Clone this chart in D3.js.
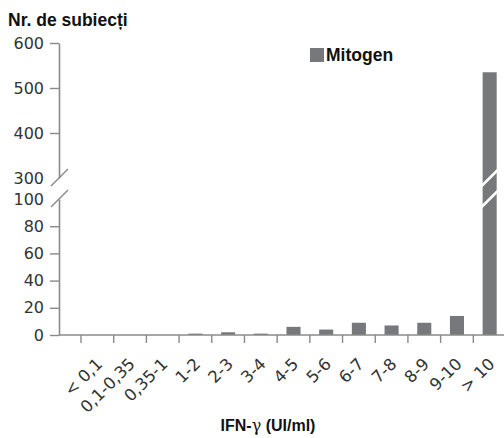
<!DOCTYPE html>
<html>
<head>
<meta charset="utf-8">
<script src="https://cdn.jsdelivr.net/npm/d3@7"></script>
<style>
  body { margin: 0; background: #fff; }
  .tick text { font-family: "DejaVu Sans", sans-serif; font-size: 16px; fill: #333; }
  .title { font-family: "Liberation Sans", Arial, sans-serif; font-weight: bold; fill: #111; }
</style>
</head>
<body>
<div id="chart"></div>
<script>
// data
const categories = ['< 0,1', '0,1-0,35', '0,35-1', '1-2', '2-3', '3-4', '4-5', '5-6', '6-7', '7-8', '8-9', '9-10', '> 10'];
const mitogen = [0, 0, 0, 1, 2, 1, 6, 4, 9, 7, 9, 14, 535];
const lowTicks = [0, 20, 40, 60, 80, 100];
const highTicks = [300, 400, 500, 600];

const width = 504, height = 438;
const axisX = 59, baseY = 335;
const axisColor = '#8a8a8a', barColor = '#77787c';

const svg = d3.select('#chart').append('svg')
    .attr('width', width)
    .attr('height', height);

// x scale: bars centred in each band, ticks on band boundaries
const x = d3.scaleBand()
    .domain(categories)
    .range([81, 506])
    .paddingInner(0.57)
    .paddingOuter(0.285);

// broken y axis: two linear segments
const yLow = d3.scaleLinear().domain([0, 100]).range([baseY, 199]);
const yHigh = d3.scaleLinear().domain([300, 600]).range([178, 43]);

// bars
svg.append('g').selectAll('rect')
    .data(mitogen.map((v, i) => ({cat: categories[i], v})))
    .join('rect')
    .attr('x', d => x(d.cat))
    .attr('width', x.bandwidth())
    .attr('y', d => d.v > 100 ? yHigh(d.v) : yLow(d.v))
    .attr('height', d => baseY - (d.v > 100 ? yHigh(d.v) : yLow(d.v)))
    .attr('fill', barColor);

// white break marks across tall bars
const tall = mitogen.map((v, i) => ({cat: categories[i], v})).filter(d => d.v > 100);
[yHigh(300), yLow(100)].forEach(by => {
  svg.append('g').selectAll('line')
      .data(tall)
      .join('line')
      .attr('x1', d => x(d.cat) - 2)
      .attr('x2', d => x(d.cat) + x.bandwidth() + 2)
      .attr('y1', by + 9)
      .attr('y2', by - 9)
      .attr('stroke', '#fff')
      .attr('stroke-width', 2.5);
});

// y axes
const lowAxis = svg.append('g')
    .attr('transform', `translate(${axisX},0)`)
    .call(d3.axisLeft(yLow).tickValues(lowTicks).tickSize(9).tickSizeOuter(0).tickPadding(6));
const highAxis = svg.append('g')
    .attr('transform', `translate(${axisX},0)`)
    .call(d3.axisLeft(yHigh).tickValues(highTicks).tickSize(9).tickSizeOuter(0).tickPadding(6));

[lowAxis, highAxis].forEach(g => {
  g.select('.domain').attr('stroke', axisColor).attr('stroke-width', 1.6);
  g.selectAll('.tick line').attr('stroke', axisColor).attr('stroke-width', 1.4);
});
lowAxis.selectAll('.tick').filter(d => d === 100).select('line').remove();
highAxis.selectAll('.tick').filter(d => d === 300).select('line').remove();

// break slashes on the y axis
[yHigh(300), yLow(100)].forEach(by => {
  svg.append('line')
      .attr('x1', axisX - 8).attr('x2', axisX + 9)
      .attr('y1', by + 8).attr('y2', by - 9)
      .attr('stroke', axisColor)
      .attr('stroke-width', 1.5);
});

// x axis line and boundary ticks
svg.append('line')
    .attr('x1', axisX).attr('x2', width)
    .attr('y1', baseY).attr('y2', baseY)
    .attr('stroke', axisColor)
    .attr('stroke-width', 1.6);

const off = (x.step() - x.bandwidth()) / 2;
svg.append('g').selectAll('line')
    .data(categories)
    .join('line')
    .attr('x1', d => x(d) - off)
    .attr('x2', d => x(d) - off)
    .attr('y1', baseY)
    .attr('y2', baseY + 8)
    .attr('stroke', axisColor)
    .attr('stroke-width', 1.4);

// x labels, rotated
const xAxis = svg.append('g')
    .attr('transform', `translate(0,${baseY})`)
    .call(d3.axisBottom(x).tickSize(0));
xAxis.select('.domain').remove();
xAxis.selectAll('.tick text')
    .attr('x', 6)
    .attr('y', 30)
    .attr('dy', 0)
    .attr('text-anchor', 'end')
    .attr('transform', 'rotate(-45 6 30)')
    .style('font-size', '16.5px');

// titles
svg.append('text')
    .attr('class', 'title')
    .attr('x', 8)
    .attr('y', 26)
    .style('font-size', '17.5px')
    .text('Nr. de subiecți');

svg.append('rect')
    .attr('x', 310).attr('y', 48)
    .attr('width', 14).attr('height', 14)
    .attr('fill', barColor);
svg.append('text')
    .attr('class', 'title')
    .attr('x', 326)
    .attr('y', 61)
    .style('font-size', '17.5px')
    .text('Mitogen');

const xt = svg.append('text')
    .attr('class', 'title')
    .attr('x', 268)
    .attr('y', 431)
    .attr('text-anchor', 'middle')
    .style('font-size', '16px');
xt.append('tspan').text('IFN-');
xt.append('tspan').style('font-weight', 'normal').style('font-family', '"DejaVu Serif", serif').text('γ');
xt.append('tspan').text(' (UI/ml)');
</script>
</body>
</html>
